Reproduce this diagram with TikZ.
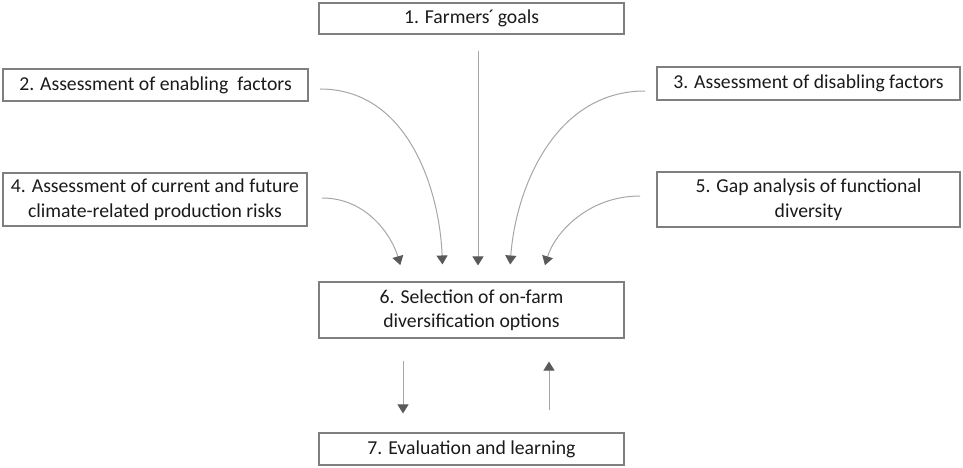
\documentclass[tikz,border=0pt]{standalone}
\usepackage{fontspec}
\setmainfont{Carlito}
\usetikzlibrary{arrows.meta}
\definecolor{boxgray}{HTML}{7F7F7F}
\definecolor{linegray}{HTML}{A6A6A6}
\definecolor{headgray}{HTML}{595959}
\definecolor{txt}{HTML}{1A1A1A}
\begin{document}
\begin{tikzpicture}[x=1pt,y=-1pt,
  box/.style={draw=boxgray, line width=1.1pt, inner sep=0pt, align=center, text=txt,
    font=\fontsize{19.7}{24.5}\selectfont},
  conn/.style={draw=linegray, line width=1pt,
    -{Triangle[width=11pt,length=9pt,color=headgray]}}]
\useasboundingbox (0,0) rectangle (963,468);
\node[box, minimum width=305pt, minimum height=31pt] (b1) at (471.5,18.5) {1. Farmers\kern-1pt ´\kern-1pt\ goals};
\node[box, minimum width=305pt, minimum height=32pt] (b2) at (155.5,85) {2. Assessment of enabling\ \ factors};
\node[box, minimum width=303pt, minimum height=33pt] (b3) at (808.5,83.5) {3. Assessment of disabling factors};
\node[box, minimum width=304pt, minimum height=53pt] (b4) at (155,199.5) {4. Assessment of current and future\\climate-related production risks};
\node[box, minimum width=303pt, minimum height=55pt] (b5) at (808.5,199.5) {5. Gap analysis of functional\\diversity};
\node[box, minimum width=305pt, minimum height=56pt] (b6) at (471.5,310) {6. Selection of on-farm\\diversification options};
\node[box, minimum width=305pt, minimum height=32pt] (b7) at (471.5,449) {7. Evaluation and learning};
\coordinate (s2) at (320,89);
\coordinate (s3) at (645,91);
\coordinate (s4) at (322,198);
\coordinate (s5) at (640,196);
\draw[conn, shorten <=16pt, shorten >=16pt] (b1.south -| 478,0) -- (b6.north -| 478,0);
\draw[conn, shorten >=17pt] (s2) to[out=0,in=92] (b6.north -| 443,0);
\draw[conn, shorten >=17pt] (s3) to[out=180,in=86] (b6.north -| 509,0);
\draw[conn, shorten >=17pt] (s4) to[out=0,in=106] (b6.north -| 405,0);
\draw[conn, shorten >=17pt] (s5) to[out=180,in=73] (b6.north -| 540,0);
\draw[conn, shorten <=22pt, shorten >=19pt] (b6.south -| 403,0) -- (b7.north -| 403,0);
\draw[conn, shorten <=22pt, shorten >=23pt] (b7.north -| 549,0) -- (b6.south -| 549,0);
\end{tikzpicture}
\end{document}
